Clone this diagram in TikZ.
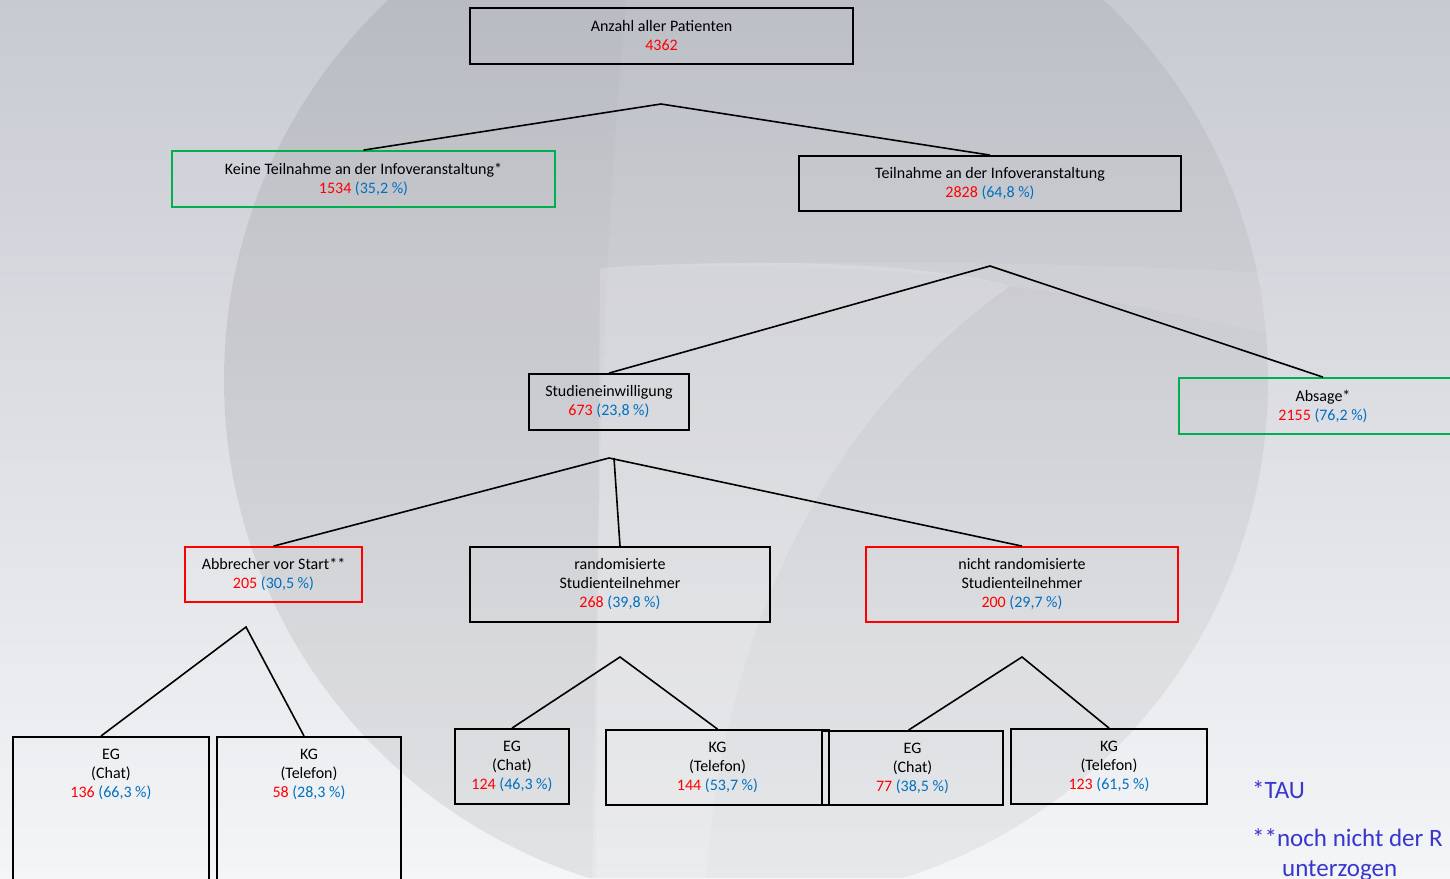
\documentclass[tikz,border=0pt]{standalone}
\usepackage{fontspec}
\setmainfont{Carlito}
\usetikzlibrary{calc}
\definecolor{nred}{RGB}{255,0,0}
\definecolor{pblue}{RGB}{0,112,192}
\definecolor{bgreen}{RGB}{0,176,80}
\definecolor{fnblue}{RGB}{55,55,205}
\definecolor{bgtop}{RGB}{200,202,210}
\definecolor{bgbot}{RGB}{244,245,247}
\newcommand\nv[2]{\textcolor{nred}{#1} \textcolor{pblue}{(#2~\%)}}
\begin{document}
\begin{tikzpicture}[x=1pt,y=-1pt,
  font=\fontsize{16}{19}\selectfont,
  box/.style={draw=black, line width=1.8pt, rectangle, inner sep=0pt, align=center},
  gbox/.style={box, draw=bgreen},
  rbox/.style={box, draw=nred},
  conn/.style={line width=1.6pt},
  fn/.style={anchor=base west, text=fnblue, inner sep=0pt, font=\fontsize{25}{30}\selectfont}]
\useasboundingbox (0,0) rectangle (1450,878);
% background
\shade[top color=bgtop, bottom color=bgbot] (0,0) rectangle (1450,878);
\begin{scope}
\clip (746,380) circle (522);
\fill[black, opacity=0.05] (0,0) rectangle (1450,878);
\fill[black, opacity=0.02] (0,-200) -- (650,-200) .. controls (610,100) and (600,300) .. (592,900) -- (0,900) -- cycle;
\fill[white, opacity=0.18] (600,268) .. controls (800,255) and (950,268) .. (1010,286) .. controls (850,400) and (720,600) .. (705,900) -- (596,900) -- cycle;
\fill[white, opacity=0.08] (1010,286) .. controls (1120,300) and (1200,320) .. (1300,340) -- (1300,275) .. controls (1100,262) and (800,258) .. (600,268) .. controls (800,262) and (950,272) .. (1010,286) -- cycle;
\end{scope}
% nodes
\node[box, minimum width=383, minimum height=56] (top) at (661.5,36) {Anzahl aller Patienten\\\textcolor{nred}{4362}};
\node[gbox, minimum width=383, minimum height=56] (keine) at (363.5,179) {Keine Teilnahme an der Infoveranstaltung*\\\nv{1534}{35,2}};
\node[box, minimum width=382, minimum height=55] (teil) at (990,183.5) {Teilnahme an der Infoveranstaltung\\\nv{2828}{64,8}};
\node[box, minimum width=160, minimum height=56] (stud) at (609,402) {Studieneinwilligung\\\nv{673}{23,8}};
\node[gbox, minimum width=288, minimum height=56] (absage) at (1323,406) {Absage*\\\nv{2155}{76,2}};
\node[rbox, minimum width=177, minimum height=55] (abbr) at (273.5,574.5) {Abbrecher vor Start**\\\nv{205}{30,5}};
\node[box, minimum width=300, minimum height=75] (rand) at (620,584.5) {randomisierte\\Studienteilnehmer\\\nv{268}{39,8}};
\node[rbox, minimum width=312, minimum height=75] (nicht) at (1022,584.5) {nicht randomisierte\\Studienteilnehmer\\\nv{200}{29,7}};
\node[box, minimum width=196, minimum height=170, anchor=north] (eg1) at (111,736) {};
\node[box, minimum width=184, minimum height=170, anchor=north] (kg1) at (309,736) {};
\node[align=center, inner sep=0pt] (eg1t) at (111,774) {EG\\(Chat)\\\nv{136}{66,3}};
\node[align=center, inner sep=0pt] (kg1t) at (309,774) {KG\\(Telefon)\\\nv{58}{28,3}};
\node[box, minimum width=114, minimum height=75] (eg2) at (512,766.5) {EG\\(Chat)\\\nv{124}{46,3}};
\node[box, minimum width=223, minimum height=75] (kg2) at (717.5,767.5) {KG\\(Telefon)\\\nv{144}{53,7}};
\node[box, minimum width=181, minimum height=74] (eg3) at (912.5,768) {EG\\(Chat)\\\nv{77}{38,5}};
\node[box, minimum width=196, minimum height=75] (kg3) at (1109,766.5) {KG\\(Telefon)\\\nv{123}{61,5}};
% branch points
\coordinate (a1) at (661,104);
\coordinate (a2) at (990,266);
\coordinate (a3) at (609,458);
\coordinate (a3b) at (614,458);
\coordinate (a4) at (246,627);
\coordinate (a5) at (620,657);
\coordinate (a6) at (1022,657);
% connectors
\draw[conn] (keine.north) -- (a1) -- (teil.north);
\draw[conn] (stud.north) -- (a2) -- (absage.north);
\draw[conn] (abbr.north) -- (a3) -- (nicht.north);
\draw[conn] (a3b) -- (rand.north);
\draw[conn] ($(eg1.north)+(-10,0)$) -- (a4) -- ($(kg1.north)+(-5,0)$);
\draw[conn] (eg2.north) -- (a5) -- (kg2.north);
\draw[conn] ($(eg3.north)+(-4,0)$) -- (a6) -- (kg3.north);
% footnotes
\node[fn] (fn1) at (1252,798) {*TAU};
\node[fn] (fn2) at (1252,846) {**noch nicht der R};
\node[fn] (fn3) at (1282,876) {unterzogen};
\end{tikzpicture}
\end{document}
